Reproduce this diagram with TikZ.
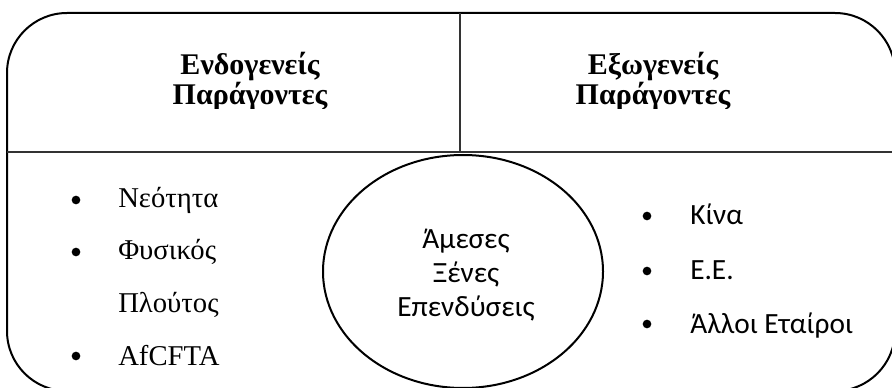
\documentclass[tikz,border=0pt]{standalone}
\usepackage{fontspec}
\setmainfont{Liberation Serif}
\newfontfamily\calfont{Carlito}
\usetikzlibrary{shapes.geometric}
\begin{document}
\begin{tikzpicture}[x=0.75pt,y=-0.75pt,
  frame/.style={line width=1.5pt, rounded corners=45pt},
  rule/.style={line width=0.8pt, black!80},
  ell/.style={draw, ellipse, line width=1.5pt, inner sep=0pt, minimum width=210pt, minimum height=174.75pt},
  head/.style={anchor=base, inner sep=0pt, font=\fontsize{22.5}{27}\selectfont\bfseries},
  serif/.style={anchor=base west, inner sep=0pt, font=\fontsize{21.5}{26}\selectfont},
  sans/.style={anchor=base west, inner sep=0pt, font=\fontsize{22}{26}\selectfont\calfont},
  mid/.style={anchor=base, inner sep=0pt, font=\fontsize{22}{26}\selectfont\calfont},
  bul/.style={circle, fill=black, inner sep=0pt, minimum size=6.5pt}]
\useasboundingbox (0,0) rectangle (892,388);
\clip (0,0) rectangle (892,388);
% outer frame
\draw[frame] (7,13) rectangle (895,391);
% dividing rules
\coordinate (hl) at (7,152);
\coordinate (hr) at (895,152);
\coordinate (vt) at (460,13);
\coordinate (vb) at (460,152);
\draw[rule] (hl) -- (hr);
\draw[rule] (vt) -- (vb);
% headers (second line cut at the bottom as in the reference)
\begin{scope}
\clip (0,0) rectangle (892,109);
\node[head] (en1) at (250,75) {Ενδογενείς};
\node[head] (en2) at (250,105) {Παράγοντες};
\node[head] (ex1) at (653,75) {Εξωγενείς};
\node[head] (ex2) at (653,105) {Παράγοντες};
\end{scope}
% centre ellipse
\node[ell] (fdi) at (463,271.5) {};
\node[mid] (m1) at (466,249) {Άμεσες};
\node[mid] (m2) at (466,282) {Ξένες};
\node[mid] (m3) at (466,316) {Επενδύσεις};
% left list
\node[bul] (lb1) at (76,200) {};
\node[bul] (lb2) at (76,252) {};
\node[bul] (lb3) at (76,356) {};
\node[serif] (l1) at (118,208) {Νεότητα};
\node[serif] (l2) at (118,260) {Φυσικός};
\node[serif] (l3) at (118,312) {Πλούτος};
\node[serif] (l4) at (118,365) {AfCFTA};
% right list
\node[bul] (rb1) at (647,216) {};
\node[bul] (rb2) at (647,271) {};
\node[bul] (rb3) at (647,324) {};
\node[sans] (r1) at (690,225) {Κίνα};
\node[sans] (r2) at (690,280) {Ε.Ε.};
\node[sans] (r3) at (690,333) {Άλλοι Εταίροι};
\end{tikzpicture}
\end{document}
